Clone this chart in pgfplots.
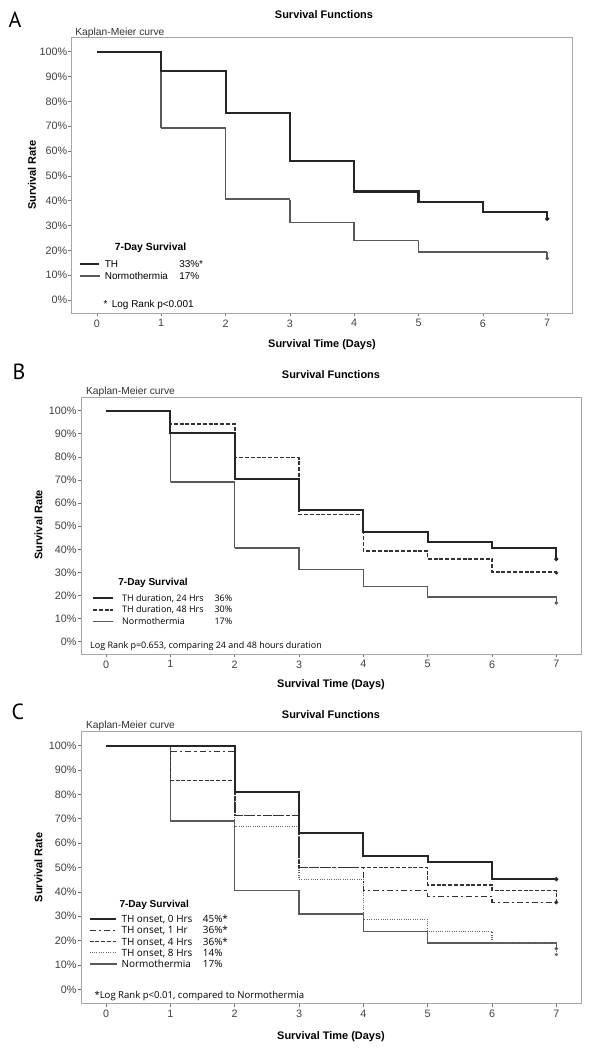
\documentclass[border=0pt]{standalone}
\usepackage{pgfplots}
\pgfplotsset{compat=1.18}
\usepackage{fontspec}
\setmainfont{Liberation Sans}
\newfontfamily\ptsans{PT Sans}
\newfontfamily\osans{Open Sans}

\pgfplotsset{
  kmaxis/.style={
    scale only axis,
    xmin=-0.39, xmax=7.39,
    xtick={0,...,7}, ytick={0,10,...,100},
    yticklabel={\pgfmathprintnumber{\tick}\%},
    tick align=outside, xtick pos=bottom, ytick pos=left,
    major tick length=3.4bp,
    every tick/.style={black!55, line width=0.6bp},
    axis line style={black!35, line width=0.8bp},
    tick label style={font=\fontsize{10.8}{13}\selectfont, text=black!75},
    /pgf/number format/assume math mode=true,
    yticklabel style={inner xsep=1bp},
    xticklabel style={inner ysep=3bp},
    const plot,
    legend cell align=left,
    reverse legend,
  },
  thsolid/.style={draw=black!85, line width=2bp, solid, mark=*, mark size=0.9bp, mark options={solid, fill=black!85}},
  normo/.style={draw=black!65, line width=1.5bp, dash pattern=on 0.5bp off 0.5bp, mark=*, mark size=0.9bp, mark options={solid, fill=black!65}},
  dashedK/.style={draw=black!80, line width=1.6bp, dash pattern=on 4bp off 1.8bp, mark=*, mark size=0.9bp, mark options={solid, fill=black!80}},
  dashdotK/.style={draw=black!80, line width=1.6bp, dash pattern=on 6bp off 3bp on 2.2bp off 3bp, mark=*, mark size=0.9bp, mark options={solid, fill=black!80}},
  dottedK/.style={draw=black!60, line width=1.2bp, dash pattern=on 0.9bp off 1.4bp, mark=*, mark size=0.9bp, mark options={solid, fill=black!60}},
}

\begin{document}
\begin{tikzpicture}
\path (0bp,0bp) rectangle (598bp,1050bp);

% ---------------- Panel A ----------------
\begin{axis}[kmaxis, at={(71.8bp,737bp)}, anchor=south west, width=500.5bp, height=276bp,
  ymin=-5.2, ymax=105.9,
  legend image code/.code={\draw[#1] (0bp,0bp) -- (19.3bp,0bp);},
  legend style={draw=none, fill=none, inner sep=0bp, row sep=1.7bp, column sep=4.6bp,
    nodes={inner sep=0bp}, font=\fontsize{10}{12}\selectfont,
    at={(axis description cs:0.0138,0.195)}, anchor=north west},
]
\addplot[normo, mark indices={8}] coordinates {(0,100) (1,69.2) (2,40.6) (3,31.2) (4,24.0) (5,19.3) (6,19.3) (7,16.8)};
\addlegendentry{\strut\makebox[74.4bp][l]{Normothermia}17\%}
\addplot[thsolid, line width=2.1bp, mark indices={8}] coordinates {(0,100) (1,92.3) (2,75.2) (3,56.0) (4,43.7) (5,39.5) (6,35.3) (7,32.7)};
\addlegendentry{\strut\makebox[74.4bp][l]{TH}33\%*}
\end{axis}

\node[font=\fontsize{22}{25}\selectfont\ptsans, anchor=base west] at (5bp,1022bp) {A};
\node[font=\fontsize{11}{13}\selectfont\bfseries] at (324bp,1035bp) {Survival Functions};
\node[font=\fontsize{10.3}{12}\selectfont, anchor=west, inner sep=0bp, text=black!80] at (75.2bp,1017.3bp) {Kaplan-Meier curve};
\node[font=\fontsize{11}{13}\selectfont\bfseries] at (322bp,705bp) {Survival Time (Days)};
\node[font=\fontsize{11}{13}\selectfont\bfseries, rotate=90] at (32bp,875bp) {Survival Rate};
\node[font=\fontsize{10.4}{12}\selectfont\bfseries] at (150.5bp,802.3bp) {7-Day Survival};
\node[font=\fontsize{10}{12}\selectfont, anchor=west, inner sep=0bp] at (103.4bp,745bp) {*\, Log Rank p<0.001};

% ---------------- Panel B ----------------
\begin{axis}[kmaxis, at={(81bp,396bp)}, anchor=south west, width=500.4bp, height=256.7bp,
  ymin=-5.3, ymax=105.8,
  legend image code/.code={\draw[#1] (0bp,0bp) -- (20bp,0bp);},
  legend style={draw=none, fill=none, inner sep=0bp, row sep=2.5bp, column sep=8.3bp,
    nodes={inner sep=0bp}, font=\fontsize{9}{10.8}\selectfont\osans,
    at={(axis description cs:0.0214,0.235)}, anchor=north west},
]
\addplot[normo, mark indices={8}] coordinates {(0,100) (1,69.2) (2,40.6) (3,31.2) (4,24.0) (5,19.3) (6,19.3) (7,16.8)};
\addlegendentry{\strut\makebox[92.3bp][l]{Normothermia}17\%}
\addplot[dashedK, mark indices={8}] coordinates {(0,100) (1,94.2) (2,79.8) (3,55.1) (4,39.4) (5,35.9) (6,30.1) (7,29.9)};
\addlegendentry{\strut\makebox[92.3bp][l]{TH duration, 48 Hrs}30\%}
\addplot[thsolid, mark indices={8}] coordinates {(0,100) (1,90.5) (2,70.5) (3,57.2) (4,47.7) (5,43.0) (6,40.7) (7,35.8)};
\addlegendentry{\strut\makebox[92.3bp][l]{TH duration, 24 Hrs}36\%}
\end{axis}

\node[font=\fontsize{22}{25}\selectfont\ptsans, anchor=base west] at (9bp,670bp) {B};
\node[font=\fontsize{11}{13}\selectfont\bfseries] at (331bp,675bp) {Survival Functions};
\node[font=\fontsize{10.3}{12}\selectfont, anchor=west, inner sep=0bp, text=black!80] at (85.8bp,658.3bp) {Kaplan-Meier curve};
\node[font=\fontsize{11}{13}\selectfont\bfseries] at (331bp,365bp) {Survival Time (Days)};
\node[font=\fontsize{11}{13}\selectfont\bfseries, rotate=90] at (38.5bp,525.3bp) {Survival Rate};
\node[font=\fontsize{10.1}{12}\selectfont\bfseries] at (153bp,467.3bp) {7-Day Survival};
\node[font=\fontsize{9}{11}\selectfont\osans, anchor=west, inner sep=0bp] at (90bp,404bp) {Log Rank p=0.653, comparing 24 and 48 hours duration};

% ---------------- Panel C ----------------
\begin{axis}[kmaxis, at={(81bp,46.7bp)}, anchor=south west, width=500.4bp, height=271.6bp,
  ymin=-5.7, ymax=105.7,
  legend image code/.code={\draw[#1] (0bp,0bp) -- (26.7bp,0bp);},
  legend style={draw=none, fill=none, inner sep=0bp, row sep=1.4bp, column sep=4.3bp,
    nodes={inner sep=0bp}, font=\fontsize{10}{12}\selectfont\osans,
    at={(axis description cs:0.0146,0.329)}, anchor=north west},
]
\addplot[normo, mark indices={8}] coordinates {(0,100) (1,69.0) (2,40.5) (3,31.0) (4,23.8) (5,19.0) (6,19.0) (7,16.7)};
\addlegendentry{\strut\makebox[81.4bp][l]{Normothermia}17\%}
\addplot[dottedK, mark indices={8}] coordinates {(0,100) (1,100) (2,66.7) (3,45.2) (4,28.6) (5,23.8) (6,19.0) (7,14.3)};
\addlegendentry{\strut\makebox[81.4bp][l]{TH onset, 8 Hrs}14\%}
\addplot[dashedK, mark indices={8}] coordinates {(0,100) (1,85.7) (2,71.4) (3,50.0) (4,50.0) (5,42.9) (6,40.5) (7,35.7)};
\addlegendentry{\strut\makebox[81.4bp][l]{TH onset, 4 Hrs}36\%*}
\addplot[dashdotK, mark indices={8}] coordinates {(0,100) (1,97.6) (2,71.4) (3,50.0) (4,40.5) (5,38.1) (6,35.7) (7,35.7)};
\addlegendentry{\strut\makebox[81.4bp][l]{TH onset, 1 Hr}36\%*}
\addplot[thsolid, mark indices={8}] coordinates {(0,100) (1,100) (2,81.0) (3,64.3) (4,54.8) (5,52.4) (6,45.2) (7,45.2)};
\addlegendentry{\strut\makebox[81.4bp][l]{TH onset, 0 Hrs}45\%*}
\end{axis}

\node[font=\fontsize{22}{25}\selectfont\ptsans, anchor=base west] at (8bp,330bp) {C};
\node[font=\fontsize{11}{13}\selectfont\bfseries] at (331bp,335bp) {Survival Functions};
\node[font=\fontsize{10.3}{12}\selectfont, anchor=west, inner sep=0bp, text=black!80] at (85.8bp,324.3bp) {Kaplan-Meier curve};
\node[font=\fontsize{11}{13}\selectfont\bfseries] at (331bp,13.3bp) {Survival Time (Days)};
\node[font=\fontsize{11}{13}\selectfont\bfseries, rotate=90] at (38.5bp,182.5bp) {Survival Rate};
\node[font=\fontsize{10.1}{12}\selectfont\bfseries] at (154.2bp,145bp) {7-Day Survival};
\node[font=\fontsize{9.6}{11.5}\selectfont\osans, anchor=west, inner sep=0bp] at (94.3bp,54bp) {*Log Rank p<0.01, compared to Normothermia};
\end{tikzpicture}
\end{document}
